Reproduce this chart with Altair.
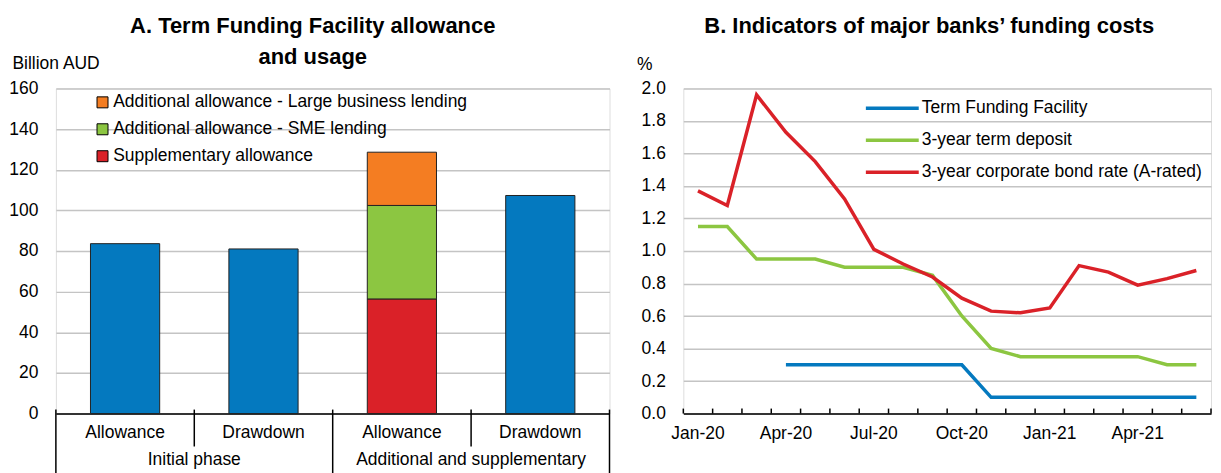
import altair as alt
import pandas as pd

FONT = "Liberation Sans, Arial, sans-serif"
FS = 17.5
TFS = 22

# ---------------- Panel A data ----------------
bar_keys = ["Initial phase|Allowance", "Initial phase|Drawdown",
            "Additional and supplementary|Allowance", "Additional and supplementary|Drawdown"]
seg_bar = [0, 1, 2, 2, 2, 3]
seg_series = ["Total", "Total", "Supplementary allowance",
              "Additional allowance - SME lending",
              "Additional allowance - Large business lending", "Total"]
seg_order = [0, 0, 0, 1, 2, 0]
seg_values = [83.6, 81.0, 56.4, 46.0, 26.2, 107.3]
series_a = ["Total", "Additional allowance - Large business lending",
            "Additional allowance - SME lending", "Supplementary allowance"]
colors_a = ["#0479BF", "#F47D22", "#8CC641", "#DA2128"]
legend_a = series_a[1:]
group_names = ["Initial phase", "Additional and supplementary"]
group_pos = [1, 3]
sep_major = [0, 2, 4]
sep_minor = [1, 3]
yticks_a = [0, 20, 40, 60, 80, 100, 120, 140, 160]

# ---------------- Panel B data ----------------
months = ["Jan-20", "Feb-20", "Mar-20", "Apr-20", "May-20", "Jun-20", "Jul-20", "Aug-20",
          "Sep-20", "Oct-20", "Nov-20", "Dec-20", "Jan-21", "Feb-21", "Mar-21", "Apr-21",
          "May-21", "Jun-21"]
month_labels = ["Jan-20", "Apr-20", "Jul-20", "Oct-20", "Jan-21", "Apr-21"]
tff = [None, None, None, 0.30, 0.30, 0.30, 0.30, 0.30, 0.30, 0.30, 0.10, 0.10,
       0.10, 0.10, 0.10, 0.10, 0.10, 0.10]
deposit = [1.15, 1.15, 0.95, 0.95, 0.95, 0.90, 0.90, 0.90, 0.85, 0.60, 0.40, 0.35,
           0.35, 0.35, 0.35, 0.35, 0.30, 0.30]
bond = [1.37, 1.28, 1.96, 1.73, 1.55, 1.32, 1.01, 0.92, 0.84, 0.71, 0.63, 0.62,
        0.65, 0.91, 0.87, 0.79, 0.83, 0.88]
series_b = ["Term Funding Facility", "3-year term deposit", "3-year corporate bond rate (A-rated)"]
colors_b = ["#0479BF", "#8CC641", "#DA2128"]
yticks_b = [0, 0.2, 0.4, 0.6, 0.8, 1.0, 1.2, 1.4, 1.6, 1.8, 2.0]

WA, WB, H = 555, 529, 326
GRID = "#C4C4C4"

# ---------------- Panel A ----------------
df_a = pd.DataFrame({
    "key": [bar_keys[i] for i in seg_bar],
    "series": seg_series,
    "ord": seg_order,
    "value": seg_values,
})

bars = alt.Chart(df_a).mark_bar(stroke="#222222", strokeWidth=1).encode(
    x=alt.X("key:N", sort=bar_keys,
            scale=alt.Scale(domain=bar_keys, paddingInner=0.5, paddingOuter=0.25),
            axis=alt.Axis(title=None, labelExpr="split(datum.label, '|')[1]", labelAngle=0,
                          ticks=False, domain=True, domainColor="black", domainWidth=1.5,
                          labelFont=FONT, labelFontSize=FS, labelColor="black",
                          labelPadding=10, grid=False)),
    y=alt.Y("value:Q", stack="zero",
            scale=alt.Scale(domain=[0, 160], nice=False),
            axis=alt.Axis(values=yticks_a, title="Billion AUD", titleAngle=0,
                          titleAlign="left", titleBaseline="middle", titleX=-44, titleY=-25,
                          titleFont=FONT, titleFontSize=FS, titleFontWeight="normal",
                          titleColor="black", grid=True, gridColor=GRID, gridWidth=1.5,
                          domain=False, ticks=False, labelPadding=18, labelFont=FONT,
                          labelFontSize=FS, labelColor="black")),
    color=alt.Color("series:N", scale=alt.Scale(domain=series_a, range=colors_a),
                    legend=alt.Legend(values=legend_a, orient="none", legendX=38, legendY=4,
                                      title=None, symbolType="square", symbolSize=121,
                                      symbolStrokeColor="black", symbolStrokeWidth=1,
                                      symbolOpacity=1, labelFont=FONT, labelFontSize=FS,
                                      labelColor="black", labelOffset=2, clipHeight=20,
                                      rowPadding=7, padding=0, labelLimit=600)),
    order=alt.Order("ord:Q"),
)

sep_x = alt.X("pos:Q", scale=alt.Scale(domain=[0, 4], nice=False, zero=False), axis=None)

seps_major = alt.Chart(pd.DataFrame({"pos": sep_major})).mark_rule(
    color="black", strokeWidth=1.5).encode(x=sep_x, y=alt.value(H - 4), y2=alt.value(H + 60))
seps_minor = alt.Chart(pd.DataFrame({"pos": sep_minor})).mark_rule(
    color="black", strokeWidth=1.5).encode(x=sep_x, y=alt.value(H - 4), y2=alt.value(H + 33))
group_text = alt.Chart(pd.DataFrame({"pos": group_pos, "label": group_names})).mark_text(
    font=FONT, fontSize=FS, color="black", baseline="alphabetic", align="center").encode(
    x=sep_x, y=alt.value(H + 52), text="label:N")

panel_a = alt.layer(bars, seps_major, seps_minor, group_text).resolve_scale(
    x="independent").properties(
    width=WA, height=H,
    title=alt.TitleParams(text=["A. Term Funding Facility allowance", "and usage"],
                          font=FONT, fontSize=TFS, fontWeight="bold", color="black",
                          anchor="middle", frame="group", dx=-20, lineHeight=32, offset=-15))

# ---------------- Panel B ----------------
rows = []
for name, vals in zip(series_b, [tff, deposit, bond]):
    for m, v in zip(months, vals):
        if v is not None:
            rows.append({"month": m, "series": name, "value": v})
df_b = pd.DataFrame(rows)

xscale_b = alt.Scale(type="band", domain=months, paddingInner=0, paddingOuter=0)
label_list = "[" + ",".join("'" + m + "'" for m in month_labels) + "]"

lines = alt.Chart(df_b).mark_line(strokeWidth=3.5).encode(
    x=alt.X("month:N", sort=months, scale=xscale_b,
            axis=alt.Axis(title=None, orient="bottom", ticks=False, domain=True,
                          domainColor="black", domainWidth=1.5, labelAngle=0,
                          labelExpr="indexof(" + label_list + ", datum.label) >= 0 ? datum.label : ''",
                          labelFont=FONT, labelFontSize=FS, labelColor="black",
                          labelPadding=11, grid=False)),
    y=alt.Y("value:Q", scale=alt.Scale(domain=[0, 2], nice=False),
            axis=alt.Axis(values=yticks_b, format=".1f", title="%", titleAngle=0,
                          titleAlign="left", titleBaseline="middle", titleX=-47, titleY=-24,
                          titleFont=FONT, titleFontSize=FS, titleFontWeight="normal",
                          titleColor="black", grid=True, gridColor=GRID, gridWidth=1.5,
                          domain=False, ticks=False, labelPadding=18, labelFont=FONT,
                          labelFontSize=FS, labelColor="black")),
    color=alt.Color("series:N", scale=alt.Scale(domain=series_b, range=colors_b),
                    legend=alt.Legend(orient="none", legendX=181, legendY=10, title=None,
                                      symbolType="stroke", symbolSize=2809,
                                      symbolStrokeWidth=3.5, clipHeight=20, rowPadding=12,
                                      labelFont=FONT, labelFontSize=FS, labelColor="black",
                                      labelOffset=1, padding=0, labelLimit=600)),
)

month_df = pd.DataFrame({"month": months})
ticks_left = alt.Chart(month_df).mark_rule(color="black", strokeWidth=1.5).encode(
    x=alt.X("month:N", sort=months, scale=xscale_b, bandPosition=0),
    y=alt.value(H - 5), y2=alt.value(H))
ticks_end = alt.Chart(pd.DataFrame({"month": months[-1:]})).mark_rule(
    color="black", strokeWidth=1.5).encode(
    x=alt.X("month:N", sort=months, scale=xscale_b, bandPosition=1),
    y=alt.value(H - 5), y2=alt.value(H))

panel_b = alt.layer(lines, ticks_left, ticks_end).properties(
    width=WB, height=H,
    title=alt.TitleParams(text="B. Indicators of major banks’ funding costs",
                          font=FONT, fontSize=TFS, fontWeight="bold", color="black",
                          anchor="middle", frame="group", dx=-18, offset=18))

chart = alt.hconcat(panel_a, panel_b, spacing=74, bounds="flush").resolve_scale(
    x="independent", y="independent", color="independent").resolve_legend(
    color="independent").properties(
    padding={"left": 0, "top": 5, "right": 0, "bottom": 0}
).configure_view(stroke=None).configure(font=FONT)

chart.save("out.html", embed_options={"renderer": "svg", "actions": False})
